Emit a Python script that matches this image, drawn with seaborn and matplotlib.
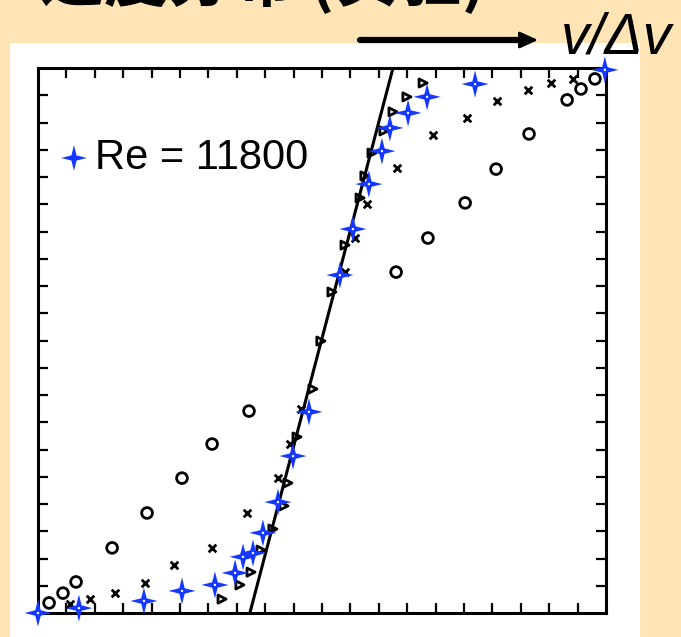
import numpy as np
import pandas as pd
import seaborn as sns
import matplotlib.pyplot as plt
from matplotlib.path import Path
from matplotlib.patches import Rectangle

# blue stars, Re = 11800
star_x = [0.0, 1.44, 3.73, 5.07, 6.23, 6.94, 7.22, 7.57, 7.92, 8.45, 8.98, 9.54,
          10.63, 11.09, 11.65, 12.11, 12.39, 13.03, 13.70, 15.39, 19.96]
star_y = [0.0, 0.18, 0.44, 0.81, 1.03, 1.47, 2.06, 2.20, 2.94, 4.07, 5.76, 7.38,
          12.40, 14.09, 15.74, 16.95, 17.80, 18.35, 18.94, 19.41, 19.93]

# open triangles
tri_x = [6.48, 7.11, 7.50, 7.85, 8.27, 8.66, 8.80, 9.12, 9.68, 9.96, 10.35, 10.81,
         11.34, 11.51, 11.76, 12.18, 12.50, 12.99, 13.56]
tri_y = [0.51, 1.03, 1.50, 2.31, 3.08, 3.93, 4.77, 6.46, 8.22, 9.98, 11.78, 13.50,
         15.23, 16.04, 16.88, 17.69, 18.39, 18.94, 19.45]

# crosses
cross_x = [1.13, 1.83, 2.71, 3.77, 4.79, 6.13, 7.36, 8.45, 8.87, 9.26, 10.81, 11.16,
           11.58, 12.64, 13.91, 15.11, 16.16, 17.25, 18.06, 18.84]
cross_y = [0.33, 0.51, 0.73, 1.10, 1.76, 2.39, 3.67, 4.95, 6.20, 7.49, 12.51, 13.76,
           15.01, 16.33, 17.54, 18.17, 18.79, 19.19, 19.45, 19.60]

# open circles
circ_x = [0.39, 0.88, 1.34, 2.61, 3.84, 5.07, 6.13, 7.43, 12.61, 13.73, 15.04, 16.13,
          17.29, 18.63, 19.12, 19.61]
circ_y = [0.37, 0.73, 1.14, 2.39, 3.67, 4.95, 6.20, 7.41, 12.51, 13.76, 15.05, 16.29,
          17.58, 18.83, 19.23, 19.60]

# laminar-core straight line
line_x = [7.46, 12.5]
line_y = [0, 20]

title = "速度分布 (实验)"
xlabel = "v/Δv"
legend_label = "Re = 11800"

sns.set_style("ticks")
plt.rcParams['font.family'] = ['Liberation Sans', 'Noto Sans CJK SC', 'DejaVu Sans']
plt.rcParams['text.color'] = 'black'

W, H = 681, 637
fig = plt.figure(figsize=(W / 100, H / 100), dpi=100, facecolor='#ffe4b5')
fig.patches.append(Rectangle((10 / W, 0), 630 / W, 594 / H, transform=fig.transFigure,
                             facecolor='white', edgecolor='none', zorder=-1))
ax = fig.add_axes([38 / W, 24 / H, 568 / W, 545 / H])
ax.set_facecolor('white')

# 4-pointed star marker
k = 0.2
verts = [(0, 1), (k, k), (1, 0), (k, -k), (0, -1), (-k, -k), (-1, 0), (-k, k), (0, 1)]
star = Path(verts, [Path.MOVETO] + [Path.LINETO] * 7 + [Path.CLOSEPOLY])

sns.lineplot(x=line_x, y=line_y, color='black', linewidth=2.2, ax=ax, zorder=2)
sns.scatterplot(x=circ_x, y=circ_y, marker='o', s=60, facecolors='none',
                edgecolor='black', linewidth=2.0, ax=ax, zorder=3, clip_on=False)
sns.scatterplot(x=cross_x, y=cross_y, marker='x', s=30, color='black',
                linewidth=2.0, ax=ax, zorder=3, clip_on=False)
sns.scatterplot(x=tri_x, y=tri_y, marker='>', s=34, facecolors='none',
                edgecolor='black', linewidth=2.0, ax=ax, zorder=3, clip_on=False)
sns.scatterplot(x=star_x, y=star_y, marker=star, s=380, color='#1438ff',
                edgecolor='none', linewidth=0, ax=ax, zorder=5, clip_on=False,
                label=legend_label)
sns.scatterplot(x=star_x, y=star_y, marker='o', s=3, color='white',
                edgecolor='none', ax=ax, zorder=6, clip_on=False)

ax.set_xlim(0, 20)
ax.set_ylim(0, 20)
ax.set_xticks(range(1, 20))
ax.set_yticks(range(1, 20))
ax.tick_params(direction='in', length=7, width=1.6, top=True, right=True,
               labelbottom=False, labelleft=False, color='black')
for sp in ax.spines.values():
    sp.set_visible(True)
    sp.set_linewidth(2.2)
    sp.set_color('black')
ax.set_xlabel('')
ax.set_ylabel('')

leg = ax.legend(loc='center left', bbox_to_anchor=(0.045, 0.835), frameon=False,
                fontsize=30, handlelength=0.5, handletextpad=0.25, borderpad=0,
                borderaxespad=0, markerscale=0.95)
for t in leg.get_texts():
    t.set_color('black')

# title (cut off at the top edge, as in the source slide) and axis arrow
fig.text(40 / W, 1 - 1 / H, title, fontsize=46, fontweight='bold',
         family=['Noto Sans CJK SC', 'DejaVu Sans'], ha='left', va='baseline')
fig.add_artist(plt.Line2D([360 / W, 520 / W], [1 - 40 / H, 1 - 40 / H],
                          color='black', linewidth=4.5))
ax.annotate('', xy=(538 / W, 1 - 40 / H), xytext=(515 / W, 1 - 40 / H),
            xycoords='figure fraction', textcoords='figure fraction',
            arrowprops=dict(arrowstyle='-|>,head_length=1.1,head_width=0.5',
                            color='black', lw=2, shrinkA=0, shrinkB=0))
fig.text(561 / W, 1 - 54 / H, xlabel, fontsize=41, style='italic',
         ha='left', va='baseline')

fig.savefig('out.png', dpi=100, facecolor=fig.get_facecolor())
